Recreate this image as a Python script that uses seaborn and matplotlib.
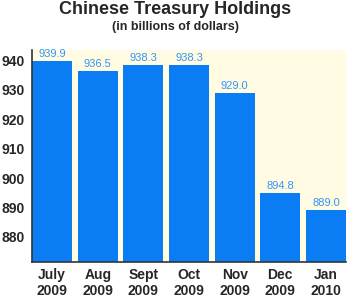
import matplotlib
matplotlib.use("Agg")
import matplotlib.pyplot as plt
import seaborn as sns
import pandas as pd

months = ["July\n2009", "Aug\n2009", "Sept\n2009", "Oct\n2009", "Nov\n2009", "Dec\n2009", "Jan\n2010"]
values = [939.9, 936.5, 938.3, 938.3, 929.0, 894.8, 889.0]
labels = ["939.9", "936.5", "938.3", "938.3", "929.0", "894.8", "889.0"]
yticks = [880, 890, 900, 910, 920, 930, 940]

sns.set_style("white")
plt.rcParams["font.family"] = ["Liberation Sans", "DejaVu Sans"]

df = pd.DataFrame({"month": months, "value": values})

fig = plt.figure(figsize=(3.5, 3.06), dpi=100)
ax = fig.add_axes([32/350, 1 - 262/306, 314/350, 212/306])
ax.set_facecolor("#FFFCE3")

sns.barplot(data=df, x="month", y="value", color="#0A7CF4", saturation=1,
            width=0.88, ax=ax, edgecolor="none")

ymin, ymax = 871.5, 943.5
ax.set_ylim(ymin, ymax)
ax.set_xlim(-0.44, 6.44)
ax.set_yticks(yticks)
ax.set_yticklabels([str(t) for t in yticks], fontsize=10, fontweight="bold")
ax.tick_params(axis="x", labelsize=10, length=0, pad=4)
ax.tick_params(axis="y", length=0, pad=5)
for t in ax.get_xticklabels():
    t.set_fontweight("bold")
ax.set_xlabel("")
ax.set_ylabel("")

for i, (v, lab) in enumerate(zip(values, labels)):
    ax.text(i, v + 0.7, lab, ha="center", va="bottom", fontsize=8,
            color="#3395F6")

for s in ["top", "right"]:
    ax.spines[s].set_visible(False)
for s in ["left", "bottom"]:
    ax.spines[s].set_color("#333333")
    ax.spines[s].set_linewidth(1.2)

fig.text(0.5, 1 - 10/306, "Chinese Treasury Holdings", ha="center", va="center",
         fontsize=13, fontweight="bold")
fig.text(0.5, 1 - 27/306, "(in billions of dollars)", ha="center", va="center",
         fontsize=9, fontweight="bold")

fig.savefig("out.png", dpi=100)
